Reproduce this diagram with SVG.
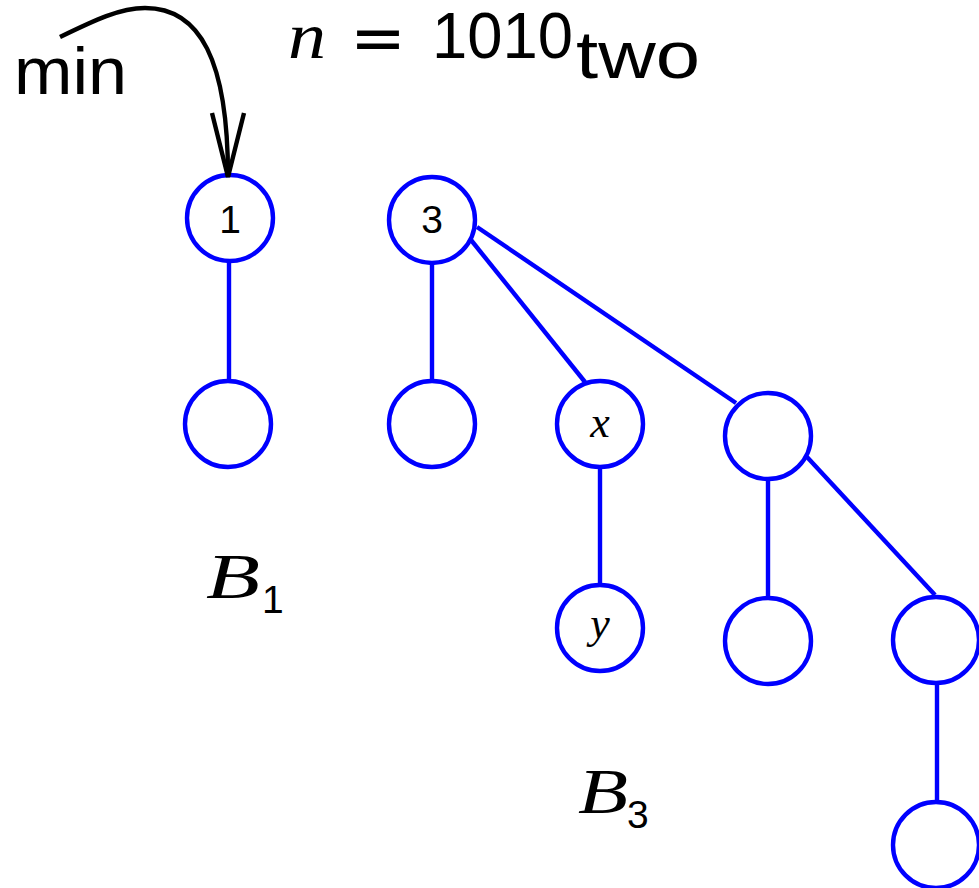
<svg xmlns="http://www.w3.org/2000/svg" width="979" height="888" viewBox="0 0 979 888">
  <style>
    .node circle { fill: #ffffff; stroke: #0000ff; stroke-width: 4.4; }
    .edges line { stroke: #0000ff; stroke-width: 4.4; }
    .lbl { font-family: "Liberation Sans", Arial, sans-serif; fill: #000; text-anchor: middle; }
    .math { font-family: "Liberation Serif", "Times New Roman", serif; font-style: italic; fill: #000; }
    .sans { font-family: "Liberation Sans", Arial, sans-serif; fill: #000; }
  </style>
  <defs>
    <marker id="arrowhead" markerUnits="userSpaceOnUse" markerWidth="80" markerHeight="40" refX="0" refY="0" viewBox="-70 -20 80 40" orient="auto" overflow="visible">
      <path d="M-64,-16 L0,0 L-64,16" fill="none" stroke="#000" stroke-width="4.4" stroke-linejoin="miter"/>
    </marker>
  </defs>

  <rect width="979" height="888" fill="#ffffff"/>

  <!-- tree edges -->
  <g id="edges" class="edges">
    <line x1="229" y1="262" x2="229" y2="380"/>
    <line x1="432" y1="265" x2="432" y2="380"/>
    <line x1="471" y1="240" x2="585" y2="382"/>
    <line x1="477" y1="227" x2="736" y2="403"/>
    <line x1="600" y1="468" x2="600" y2="584"/>
    <line x1="768" y1="481" x2="768" y2="597"/>
    <line x1="807" y1="457" x2="935" y2="595"/>
    <line x1="937" y1="685" x2="937" y2="801"/>
  </g>

  <!-- B1 -->
  <g id="node-1" class="node">
    <circle cx="230" cy="218" r="43"/>
    <text class="lbl" x="230" y="233" font-size="39">1</text>
  </g>
  <g id="node-1-child" class="node">
    <circle cx="228" cy="424" r="43"/>
  </g>

  <!-- B3 -->
  <g id="node-3" class="node">
    <circle cx="432" cy="220" r="43"/>
    <text class="lbl" x="432" y="233" font-size="39">3</text>
  </g>
  <g id="node-3-child-a" class="node">
    <circle cx="432" cy="424" r="43"/>
  </g>
  <g id="node-x" class="node">
    <circle cx="600" cy="424" r="43"/>
    <text class="math" x="600" y="437" font-size="44" text-anchor="middle">x</text>
  </g>
  <g id="node-y" class="node">
    <circle cx="600" cy="628" r="43"/>
    <text class="math" x="600" y="638" font-size="44" text-anchor="middle">y</text>
  </g>
  <g id="node-3-child-c" class="node">
    <circle cx="768" cy="436" r="43"/>
  </g>
  <g id="node-3-child-c-a" class="node">
    <circle cx="768" cy="641" r="43"/>
  </g>
  <g id="node-3-child-c-b" class="node">
    <circle cx="936" cy="640" r="43"/>
  </g>
  <g id="node-3-child-c-b-a" class="node">
    <circle cx="936" cy="845" r="43"/>
  </g>

  <!-- min pointer -->
  <g id="min-pointer">
    <text class="sans" x="14" y="94" font-size="66" textLength="113" lengthAdjust="spacingAndGlyphs">min</text>
    <path d="M60,37 C95,20 120,8 145,8 C200,8 228,60 228,177" fill="none" stroke="#000" stroke-width="4.4" marker-end="url(#arrowhead)"/>
  </g>

  <!-- heading -->
  <g id="heading">
    <text class="math" x="288" y="58" font-size="66" textLength="38" lengthAdjust="spacingAndGlyphs">n</text>
    <text x="350" y="60" font-family="DejaVu Sans, sans-serif" font-size="66" fill="#000" textLength="56" lengthAdjust="spacingAndGlyphs">=</text>
    <text class="sans" x="432" y="58" font-size="64" textLength="141" lengthAdjust="spacingAndGlyphs">1010</text>
    <text class="sans" x="576" y="78" font-size="66" textLength="124" lengthAdjust="spacingAndGlyphs">two</text>
  </g>

  <!-- tree names -->
  <g id="label-B1">
    <text class="math" x="206" y="598" font-size="64" textLength="54" lengthAdjust="spacingAndGlyphs">B</text>
    <text class="sans" x="262" y="613" font-size="39">1</text>
  </g>
  <g id="label-B3">
    <text class="math" x="578" y="813" font-size="64" textLength="50" lengthAdjust="spacingAndGlyphs">B</text>
    <text class="sans" x="627" y="828" font-size="39">3</text>
  </g>
</svg>
